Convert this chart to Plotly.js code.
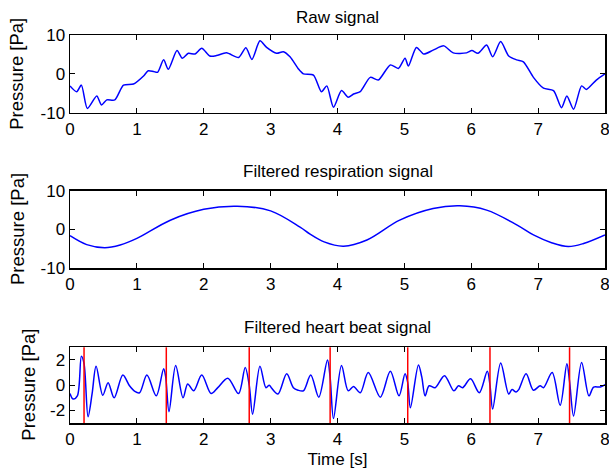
<!DOCTYPE html>
<html>
<head>
<meta charset="utf-8">
<script src="https://cdn.plot.ly/plotly-3.0.1.min.js"></script>
<style>html,body{margin:0;padding:0;background:#fff;}#chart{width:609px;height:472px;}</style>
</head>
<body>
<div id="chart"></div>
<script>
// Raw signal
const rawT = [0,0.10,0.17,0.26,0.40,0.47,0.55,0.67,0.80,0.95,1.10,1.17,1.25,1.31,1.40,1.47,1.60,1.68,1.77,1.87,1.97,2.09,2.19,2.34,2.52,2.63,2.72,2.84,2.94,3.09,3.19,3.29,3.41,3.49,3.64,3.76,3.84,3.94,4.06,4.16,4.24,4.34,4.49,4.61,4.79,4.91,5.01,5.06,5.18,5.29,5.43,5.59,5.73,5.93,6.01,6.10,6.23,6.32,6.44,6.56,6.68,6.78,6.93,7.08,7.23,7.35,7.43,7.53,7.65,7.72,7.87,8.0];
const rawV = [-3.1,-4.6,-2.9,-8.9,-5.7,-8.0,-6.7,-6.7,-2.9,-2.6,-0.55,0.8,0.6,0.4,3.6,1.2,6.0,4.0,5.3,5.1,6.6,4.6,4.7,5.4,4.2,6.7,3.7,8.5,6.8,5.3,5.7,4.4,1.4,0.0,-0.3,-4.6,-3.1,-8.6,-4.3,-6.0,-5.2,-4.6,-0.9,-1.6,2.3,1.4,4.0,2.0,6.8,5.1,6.1,7.2,5.4,5.4,6.0,5.3,7.4,4.4,8.3,4.6,3.6,3.1,-0.9,-3.7,-4.3,-8.7,-5.7,-9.1,-3.1,-4.0,-1.6,0.0];

// Filtered respiration signal
const respT = [0,0.25,0.52,0.75,1.0,1.5,2.0,2.5,3.0,3.44,3.59,3.8,4.09,4.44,4.93,5.43,5.83,6.23,6.68,6.93,7.2,7.45,7.68,8.0];
const respV = [-1.6,-3.9,-4.7,-4.0,-2.3,2.4,5.2,6.0,4.8,0.6,-1.2,-3.2,-4.3,-2.7,2.4,5.4,6.1,5.0,1.2,-1.4,-3.4,-4.4,-3.6,-1.4];

// Filtered heart beat signal
const hbT = [0,0.045,0.11,0.17,0.21,0.27,0.33,0.39,0.49,0.57,0.66,0.79,0.89,0.97,1.04,1.15,1.29,1.40,1.43,1.48,1.58,1.69,1.76,1.85,1.97,2.11,2.21,2.36,2.52,2.62,2.68,2.73,2.84,2.93,2.98,3.01,3.11,3.24,3.34,3.41,3.49,3.60,3.72,3.85,3.89,3.94,4.06,4.16,4.24,4.34,4.46,4.64,4.79,4.92,5.01,5.05,5.09,5.21,5.26,5.31,5.37,5.46,5.60,5.74,5.81,5.87,5.99,6.12,6.24,6.28,6.32,6.44,6.56,6.61,6.67,6.71,6.82,6.93,7.03,7.08,7.21,7.33,7.43,7.47,7.53,7.65,7.76,7.83,7.93,8.0];
const hbV = [-0.67,-1.1,-0.85,2.3,1.7,-2.5,-0.7,1.5,-0.8,0.2,-1.0,0.8,-0.05,-0.5,-0.6,0.8,-0.85,1.3,0.7,-2.1,1.55,-1.0,0.1,-0.45,0.8,-0.67,-0.2,0.55,-0.67,1.4,0.0,-2.3,1.5,-0.2,0.0,-0.2,-0.7,0.9,-0.2,-0.4,-0.45,0.8,-0.95,2.0,0.6,-2.65,1.55,-0.45,-0.1,-0.6,1.0,-0.95,1.1,-0.85,0.9,0.2,-1.8,1.6,0.65,-0.85,-0.05,-0.2,0.75,-0.45,-0.05,-0.2,0.5,-0.6,1.1,0.0,-1.9,1.75,-0.7,-0.35,-0.55,-0.35,0.9,-0.4,-0.05,-0.2,1.0,-1.6,1.7,0.3,-2.45,1.8,-0.85,-0.15,-0.15,0.05];

// Detected beats
const beatT = [0.21,1.44,2.68,3.89,5.05,6.28,7.47];

const titles = ['Raw signal','Filtered respiration signal','Filtered heart beat signal'];
const yTitle = 'Pressure [Pa]';
const xTitle = 'Time [s]';
const xTickVals = [0,1,2,3,4,5,6,7,8];

const FONT = 'Liberation Sans, Arial, Helvetica, sans-serif';
const FS = 17;
const blue = '#0000ff';

const traces = [
  {x: rawT, y: rawV, xaxis:'x', yaxis:'y', mode:'lines', line:{color:blue,width:1.5,shape:'spline',smoothing:0.7}},
  {x: respT, y: respV, xaxis:'x2', yaxis:'y2', mode:'lines', line:{color:blue,width:1.5,shape:'spline',smoothing:1}},
  {x: hbT, y: hbV, xaxis:'x3', yaxis:'y3', mode:'lines', line:{color:blue,width:1.5,shape:'spline',smoothing:0.9}}
];

function xax(anchor, title){
  const a = {domain:[70/609, 605/609], range:[0,8], anchor:anchor, tickvals:xTickVals,
    ticks:'inside', ticklen:5, tickwidth:1, tickcolor:'#000', showline:true, linecolor:'#000', linewidth:1.5,
    mirror:'ticks', showgrid:false, zeroline:false, ticklabeloverflow:'allow',
    tickfont:{family:FONT,size:FS,color:'#000'}};
  if (title) a.title = {text:title, font:{family:FONT,size:FS,color:'#000'}, standoff:5};
  return a;
}
function yax(anchor, dom, rng, tv, tt){
  return {domain:dom, range:rng, anchor:anchor, tickvals:tv, ticktext:tt,
    ticks:'inside', ticklen:5, tickwidth:1, tickcolor:'#000', showline:true, linecolor:'#000', linewidth:1.5,
    mirror:'ticks', showgrid:false, zeroline:false, ticklabeloverflow:'allow',
    tickfont:{family:FONT,size:FS,color:'#000'}};
}

const d1 = [1-112.7/472, 1-35/472];
const d2 = [1-268.3/472, 1-190.7/472];
const d3 = [1-423/472, 1-347.3/472];
const doms = [d1, d2, d3];

const shapes = beatT.map(t => ({type:'line', xref:'x3', yref:'y3 domain', x0:t, x1:t, y0:0, y1:1, line:{color:'#ff0000', width:1.5}}));

const annY = [1-17/472, 1-172/472, 1-327/472];
const annotations = titles.map((s,i) => ({text:s, xref:'paper', yref:'paper', x:337.5/609, y:annY[i], xanchor:'center', yanchor:'middle', showarrow:false, font:{family:FONT,size:FS,color:'#000'}}));
const yTitleX = [17, 17.5, 28.5];
doms.forEach((d,i) => annotations.push({text:yTitle, xref:'paper', yref:'paper', x:yTitleX[i]/609, y:(d[0]+d[1])/2, xanchor:'center', yanchor:'middle', textangle:-90, showarrow:false, font:{family:FONT,size:18.5,color:'#000'}}));

const layout = {
  width:609, height:472, margin:{l:0,r:0,t:0,b:0}, showlegend:false,
  paper_bgcolor:'#fff', plot_bgcolor:'#fff',
  xaxis: xax('y'), yaxis: yax('x', d1, [-10,10], [-10,0,10], ['-10','0','10']),
  xaxis2: xax('y2'), yaxis2: yax('x2', d2, [-10,10], [-10,0,10], ['-10','0','10']),
  xaxis3: xax('y3', xTitle), yaxis3: yax('x3', d3, [-3,3], [-2,0,2], ['-2','0','2']),
  shapes: shapes, annotations: annotations
};

Plotly.newPlot('chart', traces, layout, {displayModeBar:false, staticPlot:true});
</script>
</body>
</html>
